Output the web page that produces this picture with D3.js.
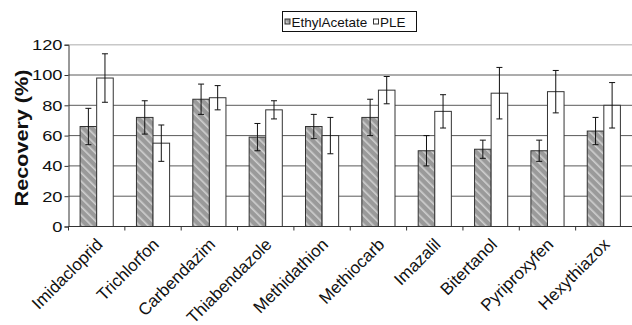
<!DOCTYPE html>
<html>
<head>
<meta charset="utf-8">
<script src="https://cdn.jsdelivr.net/npm/d3@7"></script>
<style>
  body { margin: 0; background: #fff; }
  text { font-family: "Liberation Sans", Arial, sans-serif; }
</style>
</head>
<body>
<div id="chart"></div>
<script>
const categories = ["Imidacloprid", "Trichlorfon", "Carbendazim", "Thiabendazole", "Methidathion",
                    "Methiocarb", "Imazalil", "Bitertanol", "Pyriproxyfen", "Hexythiazox"]
const seriesNames = ["EthylAcetate", "PLE"]
const ethylAcetate = [66, 72, 84, 59, 66, 72, 50, 51, 50, 63]
const ethylAcetateErr = [12, 11, 10, 9, 8, 12, 10, 6, 7, 9]
const ple = [98, 55, 85, 77, 60, 90, 76, 88, 89, 80]
const pleErr = [16, 12, 8, 6, 12, 9, 11, 17, 14, 15]
const yTicks = [0, 20, 40, 60, 80, 100, 120]

const width = 632, height = 325
const plotLeft = 68.5, plotRight = 632, plotTop = 44.7, plotBottom = 226.5

const svg = d3.select("#chart").append("svg").attr("width", width).attr("height", height)

// hatch pattern for the EthylAcetate bars
const defs = svg.append("defs")
const pat = defs.append("pattern").attr("id", "hatch").attr("patternUnits", "userSpaceOnUse")
    .attr("width", 6).attr("height", 6).attr("patternTransform", "rotate(-45)")
pat.append("rect").attr("width", 6).attr("height", 6).attr("fill", "#9a9a9a")
pat.append("rect").attr("x", 0).attr("width", 1.6).attr("height", 6).attr("fill", "#cfcfcf")

const x0 = d3.scaleBand().domain(categories).range([plotLeft, plotRight]).padding(0)
const x1 = d3.scaleBand().domain(seriesNames).range([0, x0.bandwidth()]).paddingInner(0).paddingOuter(0.7)
const y = d3.scaleLinear().domain([0, 120]).range([plotBottom, plotTop])

// gridlines
svg.append("g").selectAll("line").data(yTicks.filter(d => d > 0)).enter().append("line")
    .attr("x1", plotLeft).attr("x2", plotRight)
    .attr("y1", d => y(d)).attr("y2", d => y(d))
    .attr("stroke", d => d == 120 ? "#c8c8c8" : "#5a5a5a").attr("stroke-width", d => d == 120 ? 1.5 : 1)

const rows = categories.map((c, i) => ({
    cat: c,
    vals: [
        {s: "EthylAcetate", v: ethylAcetate[i], e: ethylAcetateErr[i]},
        {s: "PLE", v: ple[i], e: pleErr[i]}
    ]
}))

const groups = svg.append("g").selectAll("g").data(rows).enter().append("g")
    .attr("transform", d => "translate(" + x0(d.cat) + ",0)")

groups.selectAll("rect").data(d => d.vals).enter().append("rect")
    .attr("x", d => x1(d.s)).attr("width", x1.bandwidth())
    .attr("y", d => y(d.v)).attr("height", d => y(0) - y(d.v))
    .attr("fill", d => d.s == "PLE" ? "#fff" : "url(#hatch)")
    .attr("stroke", "#333").attr("stroke-width", 1)

// error bars
const eb = groups.selectAll("g.err").data(d => d.vals).enter().append("g").attr("class", "err")
    .attr("stroke", "#111").attr("stroke-width", 1)
eb.append("line")
    .attr("x1", d => x1(d.s) + x1.bandwidth() / 2).attr("x2", d => x1(d.s) + x1.bandwidth() / 2)
    .attr("y1", d => y(d.v + d.e)).attr("y2", d => y(d.v - d.e))
eb.selectAll("line.cap").data(d => [[d, d.v + d.e], [d, d.v - d.e]]).enter().append("line").attr("class", "cap")
    .attr("x1", d => x1(d[0].s) + x1.bandwidth() / 2 - 3).attr("x2", d => x1(d[0].s) + x1.bandwidth() / 2 + 3)
    .attr("y1", d => y(d[1])).attr("y2", d => y(d[1]))

// y axis
const yAxis = svg.append("g").attr("transform", "translate(" + plotLeft + ",0)")
    .call(d3.axisLeft(y).tickValues(yTicks).tickSize(4).tickPadding(3))
yAxis.select(".domain").attr("stroke", "#333")
yAxis.selectAll(".tick line").attr("stroke", "#333")
yAxis.selectAll("text").attr("font-size", 15).attr("fill", "#111")
    .attr("x", null).attr("transform", "translate(-6,0) scale(1.22,1)")

// x axis
const xAxis = svg.append("g").attr("transform", "translate(0," + plotBottom + ")")
xAxis.append("line").attr("x1", plotLeft).attr("x2", plotRight).attr("stroke", "#333")
xAxis.selectAll("line.tk").data(categories).enter().append("line").attr("class", "tk")
    .attr("x1", d => x0(d)).attr("x2", d => x0(d)).attr("y1", 0).attr("y2", 4).attr("stroke", "#333")
xAxis.selectAll("text").data(categories).enter().append("text")
    .attr("transform", d => "translate(" + (x0(d) + x0.bandwidth() / 2 + 7) + ",19) rotate(-45)")
    .attr("text-anchor", "end")
    .attr("font-size", 17).attr("fill", "#111")
    .text(d => d)

// y label
svg.append("text").attr("transform", "translate(28,138) rotate(-90) scale(1.2,1)")
    .attr("text-anchor", "middle").attr("font-size", 18).attr("font-weight", "bold").attr("fill", "#111")
    .text("Recovery (%)")

// legend
const lg = svg.append("g")
lg.append("rect").attr("x", 282.5).attr("y", 11.5).attr("width", 134).attr("height", 20)
    .attr("fill", "#fff").attr("stroke", "#111")
const lx = [285, 373.5]
seriesNames.forEach((s, i) => {
    lg.append("rect").attr("x", lx[i]).attr("y", 19).attr("width", 5).attr("height", 5)
        .attr("fill", s == "PLE" ? "#fff" : "url(#hatch)").attr("stroke", "#333")
    lg.append("text").attr("x", lx[i] + 6.5).attr("y", 26.5).attr("font-size", 13.5).attr("fill", "#111").text(s)
})
</script>
</body>
</html>
